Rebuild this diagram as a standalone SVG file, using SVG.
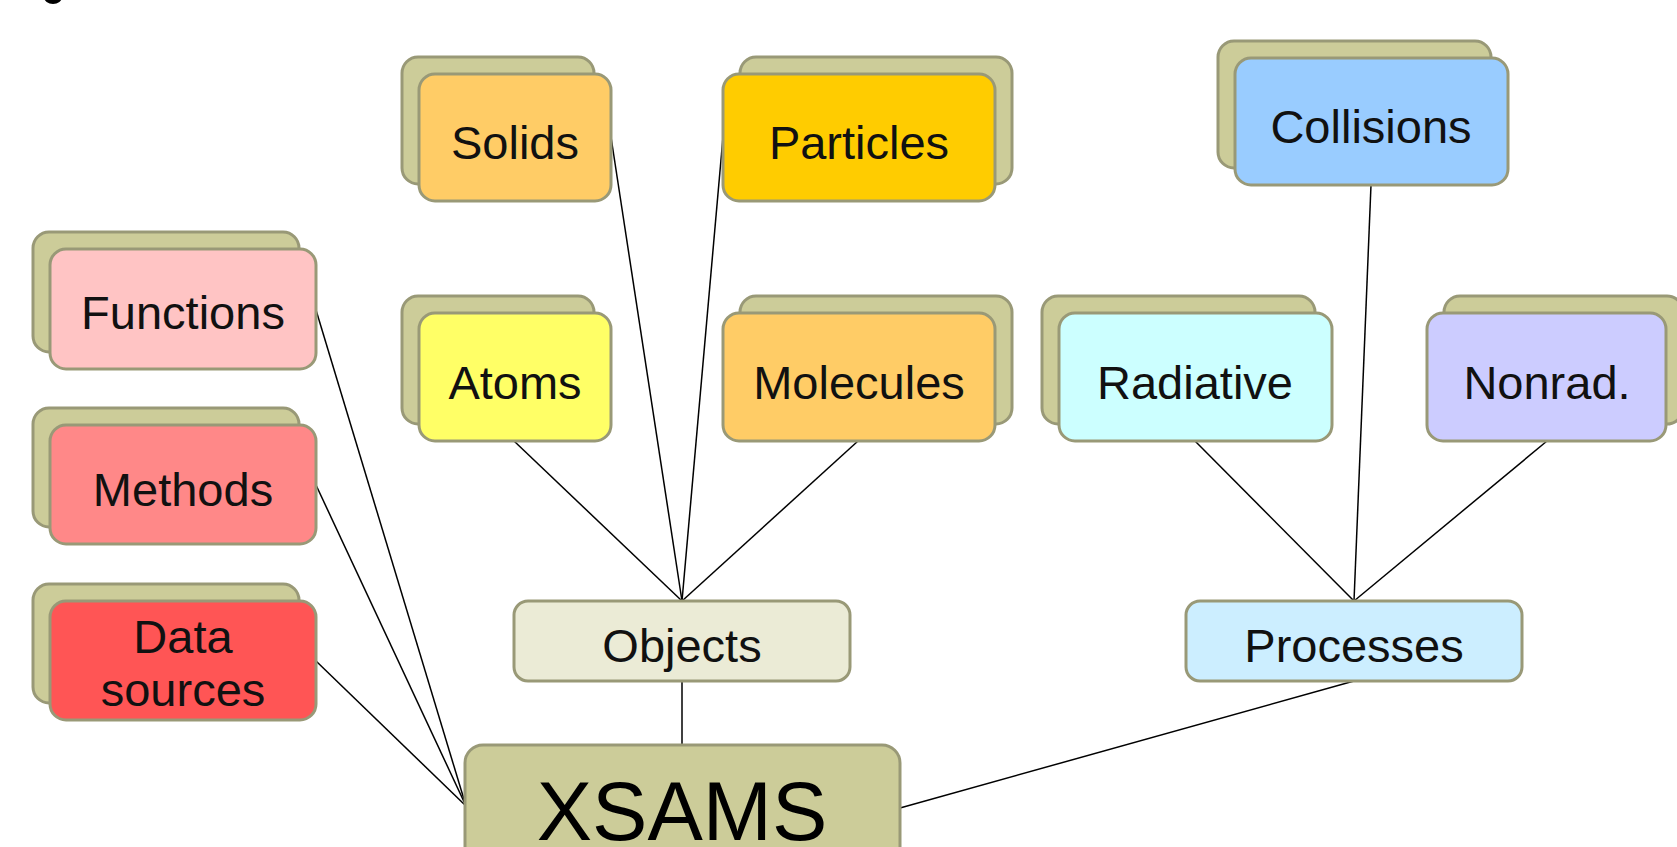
<svg xmlns="http://www.w3.org/2000/svg" width="1677" height="847" viewBox="0 0 1677 847">
<style>
.back{fill:#cccc99;stroke:#999977;stroke-width:3}
.front{stroke:#999977;stroke-width:3}
.lbl{font-family:"Liberation Sans",Arial,sans-serif;font-size:47px;fill:#111;text-anchor:middle}
.conn line{stroke:#000;stroke-width:1.5}
</style>
<rect width="1677" height="847" fill="#fff"/>
<ellipse cx="53" cy="-3" rx="9" ry="7" fill="#000"/>
<g class="conn">
<line x1="316" y1="310" x2="466" y2="806"/>
<line x1="316" y1="485" x2="466" y2="806"/>
<line x1="316" y1="661" x2="466" y2="806"/>
<line x1="611" y1="137" x2="682" y2="601"/>
<line x1="723" y1="137" x2="682" y2="601"/>
<line x1="514" y1="441" x2="682" y2="601"/>
<line x1="858" y1="441" x2="682" y2="601"/>
<line x1="682" y1="681" x2="682" y2="745"/>
<line x1="1371" y1="185" x2="1354" y2="601"/>
<line x1="1195" y1="441" x2="1354" y2="601"/>
<line x1="1547" y1="441" x2="1354" y2="601"/>
<line x1="1354" y1="681" x2="900" y2="808"/>
</g>
<g id="solids">
<rect class="back" x="402" y="57" width="192" height="127" rx="16"/>
<rect class="front" x="419" y="74" width="192" height="127" rx="16" fill="#ffcc66"/>
<text class="lbl" x="515" y="159">Solids</text>
</g>
<g id="particles">
<rect class="back" x="740" y="57" width="272" height="127" rx="16"/>
<rect class="front" x="723" y="74" width="272" height="127" rx="16" fill="#ffcc00"/>
<text class="lbl" x="859" y="159">Particles</text>
</g>
<g id="collisions">
<rect class="back" x="1218" y="41" width="273" height="127" rx="16"/>
<rect class="front" x="1235" y="58" width="273" height="127" rx="16" fill="#99ccff"/>
<text class="lbl" x="1371" y="143">Collisions</text>
</g>
<g id="functions">
<rect class="back" x="33" y="232" width="266" height="120" rx="16"/>
<rect class="front" x="50" y="249" width="266" height="120" rx="16" fill="#ffc4c4"/>
<text class="lbl" x="183" y="329">Functions</text>
</g>
<g id="atoms">
<rect class="back" x="402" y="296" width="192" height="128" rx="16"/>
<rect class="front" x="419" y="313" width="192" height="128" rx="16" fill="#ffff66"/>
<text class="lbl" x="515" y="399">Atoms</text>
</g>
<g id="molecules">
<rect class="back" x="740" y="296" width="272" height="128" rx="16"/>
<rect class="front" x="723" y="313" width="272" height="128" rx="16" fill="#ffcc66"/>
<text class="lbl" x="859" y="399">Molecules</text>
</g>
<g id="radiative">
<rect class="back" x="1042" y="296" width="273" height="128" rx="16"/>
<rect class="front" x="1059" y="313" width="273" height="128" rx="16" fill="#ccffff"/>
<text class="lbl" x="1195" y="399">Radiative</text>
</g>
<g id="nonrad">
<rect class="back" x="1444" y="296" width="239" height="128" rx="16"/>
<rect class="front" x="1427" y="313" width="239" height="128" rx="16" fill="#ccccff"/>
<text class="lbl" x="1547" y="399">Nonrad.</text>
</g>
<g id="methods">
<rect class="back" x="33" y="408" width="266" height="119" rx="16"/>
<rect class="front" x="50" y="425" width="266" height="119" rx="16" fill="#ff8888"/>
<text class="lbl" x="183" y="506">Methods</text>
</g>
<g id="datasources">
<rect class="back" x="33" y="584" width="266" height="119" rx="16"/>
<rect class="front" x="50" y="601" width="266" height="119" rx="16" fill="#ff5555"/>
<text class="lbl" x="183" y="653">Data</text>
<text class="lbl" x="183" y="706">sources</text>
</g>
<g id="objects">
<rect class="front" x="514" y="601" width="336" height="80" rx="14" fill="#ebebd6"/>
<text class="lbl" x="682" y="662">Objects</text>
</g>
<g id="processes">
<rect class="front" x="1186" y="601" width="336" height="80" rx="14" fill="#cceeff"/>
<text class="lbl" x="1354" y="662">Processes</text>
</g>
<g id="xsams">
<rect class="front" x="465" y="745" width="435" height="160" rx="18" fill="#cccc99"/>
<text class="lbl" x="682" y="840" style="font-size:83px;fill:#000">XSAMS</text>
</g>
</svg>
